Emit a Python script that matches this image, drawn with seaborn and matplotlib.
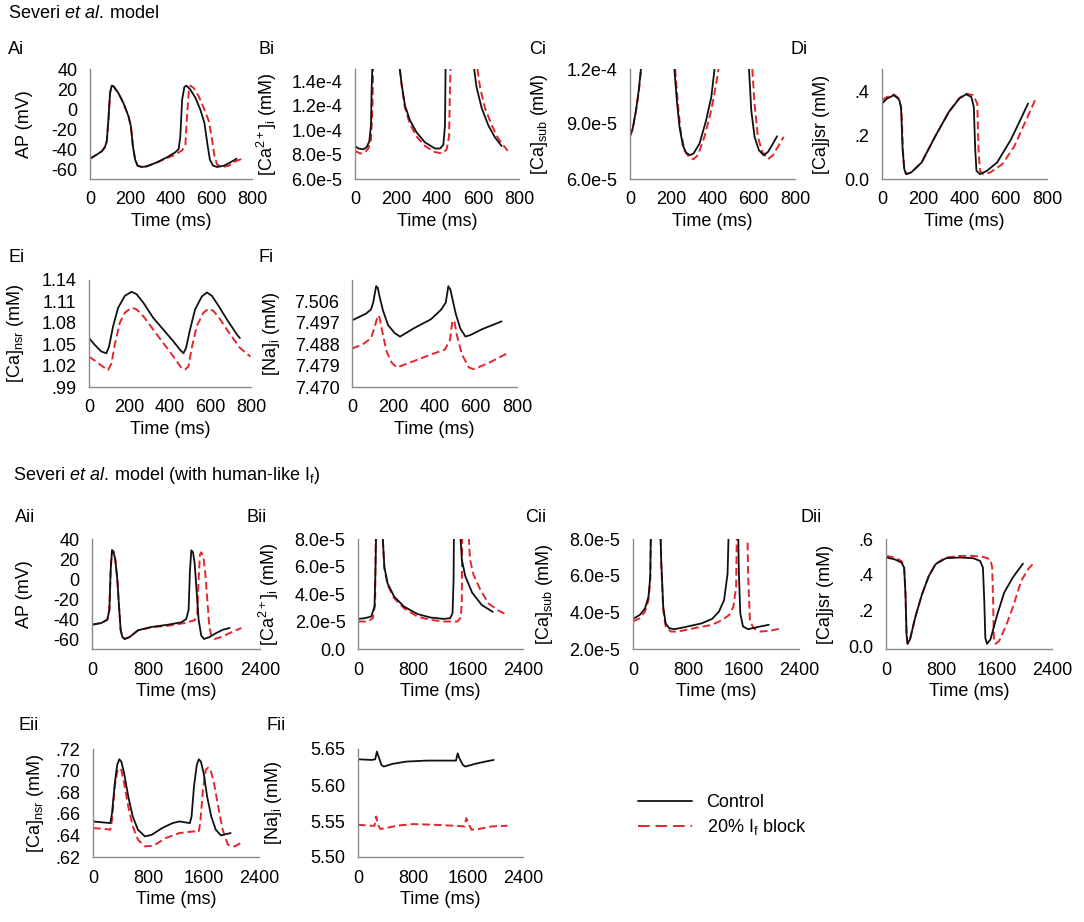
import matplotlib
matplotlib.use("Agg")
import matplotlib.pyplot as plt
import seaborn as sns
import pandas as pd
from matplotlib.lines import Line2D
from matplotlib.ticker import FuncFormatter

# ---- data: (time ms, value) ----
ai_ctrl = [(0, -49.7), (33, -45.7), (58, -42.3), (74, -38), (83, -32), (91, -10.7), (99, 16), (107, 23.3),
           (116, 22.7), (140, 16), (165, 6), (190, -7.3), (202, -17.3), (212, -37.3), (223, -50.7),
           (235, -56.7), (256, -58), (281, -57.3), (331, -53.3), (380, -48.3), (421, -43.3), (438, -40),
           (446, -27.3), (455, 9.3), (466, 22), (476, 23.3), (496, 19.3), (521, 11), (545, -0.7),
           (565, -14), (579, -34), (592, -50.7), (608, -56.7), (628, -58), (661, -56.7), (694, -53.3),
           (724, -49.7)]
ai_block = [(0, -49.7), (33, -45.7), (58, -42.3), (74, -38), (83, -32), (91, -10.7), (99, 16), (107, 23.3),
            (116, 22.7), (140, 16), (165, 6), (190, -7.3), (202, -17.3), (212, -37.3), (223, -50.7),
            (235, -56.7), (256, -58), (281, -57.3), (331, -53.5), (380, -49), (421, -45.7), (455, -41.3),
            (471, -35.7), (479, -7.3), (488, 17.7), (496, 23.3), (512, 21), (537, 12.7), (562, 1),
            (587, -12.3), (603, -30.7), (615, -47.3), (628, -55.7), (653, -58), (686, -56.7),
            (719, -52.3), (760, -49)]

bi_ctrl = [(0, 8.71e-5), (16, 8.5e-5), (41, 8.43e-5), (57, 8.6e-5), (70, 9.1e-5), (78, 1.04e-4),
           (81, 1.32e-4), (85, 1.55e-4), (95, 3e-4), (205, 3e-4), (215, 1.55e-4), (228, 1.37e-4),
           (244, 1.2e-4), (268, 1.08e-4), (301, 9.8e-5), (341, 9.0e-5), (390, 8.5e-5), (415, 8.49e-5),
           (431, 8.8e-5), (439, 1.04e-4), (442, 1.55e-4), (450, 3e-4), (570, 3e-4), (577, 1.55e-4),
           (593, 1.35e-4), (618, 1.18e-4), (650, 1.04e-4), (683, 9.4e-5), (715, 8.7e-5)]
bi_block = [(0, 8.31e-5), (24, 8.09e-5), (46, 8.14e-5), (65, 8.5e-5), (78, 9.2e-5), (85, 1.18e-4),
            (89, 1.55e-4), (99, 3e-4), (205, 3e-4), (215, 1.55e-4), (228, 1.36e-4), (244, 1.18e-4),
            (268, 1.05e-4), (301, 9.46e-5), (341, 8.7e-5), (390, 8.2e-5), (423, 8.1e-5), (447, 8.4e-5),
            (459, 9.5e-5), (463, 1.32e-4), (467, 1.55e-4), (475, 3e-4), (585, 3e-4), (593, 1.55e-4),
            (610, 1.35e-4), (634, 1.18e-4), (667, 1.04e-4), (699, 9.3e-5), (745, 8.3e-5)]

ci_ctrl = [(0, 8.39e-5), (13, 8.75e-5), (29, 9.74e-5), (42, 1.08e-4), (53, 1.2e-4), (58, 1.5e-4),
           (70, 4e-4), (205, 4e-4), (212, 1.5e-4), (215, 1.2e-4), (227, 1.03e-4), (240, 8.84e-5),
           (256, 7.84e-5), (272, 7.43e-5), (291, 7.3e-5), (308, 7.39e-5), (337, 7.93e-5), (369, 9.2e-5),
           (394, 1.046e-4), (410, 1.2e-4), (418, 1.5e-4), (430, 4e-4), (570, 4e-4), (575, 1.5e-4),
           (577, 1.2e-4), (588, 9.74e-5), (604, 8.3e-5), (625, 7.57e-5), (648, 7.3e-5), (669, 7.48e-5),
           (693, 7.93e-5), (713, 8.33e-5)]
ci_block = [(0, 8.3e-5), (13, 8.7e-5), (29, 9.7e-5), (43, 1.08e-4), (54, 1.2e-4), (59, 1.5e-4),
            (71, 4e-4), (207, 4e-4), (215, 1.5e-4), (219, 1.2e-4), (232, 1.01e-4), (245, 8.66e-5),
            (264, 7.57e-5), (288, 7.16e-5), (308, 7.08e-5), (329, 7.3e-5), (361, 8.3e-5), (394, 9.74e-5),
            (418, 1.12e-4), (429, 1.2e-4), (436, 1.5e-4), (450, 4e-4), (585, 4e-4), (590, 1.5e-4),
            (593, 1.2e-4), (604, 1.01e-4), (620, 8.3e-5), (641, 7.48e-5), (669, 7.08e-5), (693, 7.3e-5),
            (717, 7.75e-5), (745, 8.3e-5)]

di_ctrl = [(0, 0.343), (25, 0.366), (58, 0.381), (83, 0.361), (92, 0.328), (100, 0.134), (108, 0.045),
           (117, 0.022), (142, 0.03), (192, 0.075), (258, 0.194), (325, 0.306), (375, 0.366),
           (408, 0.385), (433, 0.373), (445, 0.328), (452, 0.134), (458, 0.037), (475, 0.022),
           (508, 0.037), (558, 0.075), (625, 0.179), (667, 0.261), (708, 0.343)]
di_block = [(0, 0.358), (25, 0.373), (58, 0.384), (83, 0.366), (95, 0.313), (101, 0.134), (108, 0.045),
            (117, 0.022), (142, 0.03), (192, 0.075), (258, 0.194), (325, 0.306), (375, 0.368),
            (408, 0.388), (442, 0.381), (462, 0.343), (468, 0.134), (475, 0.037), (492, 0.022),
            (525, 0.03), (583, 0.067), (642, 0.149), (692, 0.254), (742, 0.358)]

ei_ctrl = [(0, 1.0586), (28, 1.0492), (61, 1.0397), (86, 1.0373), (99, 1.0468), (119, 1.0752),
           (144, 1.1012), (177, 1.1178), (210, 1.1235), (235, 1.1201), (268, 1.1083), (317, 1.087),
           (367, 1.0705), (417, 1.0539), (450, 1.042), (466, 1.0373), (479, 1.0444), (499, 1.0705),
           (524, 1.0989), (557, 1.1168), (582, 1.1225), (607, 1.1178), (640, 1.1036), (681, 1.0847),
           (731, 1.0634), (745, 1.0586)]
ei_block = [(0, 1.0326), (36, 1.0255), (69, 1.0184), (94, 1.0137), (111, 1.0231), (127, 1.0492),
            (152, 1.0799), (177, 1.0941), (210, 1.1012), (235, 1.0988), (268, 1.0894), (317, 1.0705),
            (367, 1.0515), (417, 1.0326), (458, 1.016), (474, 1.0146), (491, 1.0184), (507, 1.0444),
            (532, 1.0752), (565, 1.0941), (590, 1.0998), (615, 1.0965), (648, 1.0847), (698, 1.0634),
            (747, 1.0444), (797, 1.0326)]

fi_ctrl = [(0, 7.498), (33, 7.4994), (67, 7.5008), (92, 7.5026), (103, 7.5056), (117, 7.5124),
           (125, 7.5117), (133, 7.5083), (150, 7.5022), (175, 7.496), (208, 7.4926), (233, 7.4912),
           (300, 7.4947), (383, 7.4985), (433, 7.5026), (455, 7.5056), (467, 7.5124), (477, 7.511),
           (487, 7.507), (503, 7.5008), (525, 7.4946), (550, 7.4912), (575, 7.4919), (633, 7.4944),
           (700, 7.4967), (725, 7.4976)]
fi_block = [(0, 7.4862), (50, 7.4878), (92, 7.4905), (108, 7.4946), (125, 7.5001), (133, 7.4994),
            (147, 7.4933), (167, 7.4851), (192, 7.4803), (217, 7.4782), (300, 7.4809), (383, 7.4837),
            (450, 7.4857), (475, 7.4898), (487, 7.498), (497, 7.4974), (508, 7.4919), (533, 7.4837),
            (567, 7.4782), (592, 7.4775), (667, 7.4803), (758, 7.4844)]

aii_ctrl = [(0, -45.7), (133, -44), (219, -40.7), (248, -30.7), (267, 9.3), (286, 28.7), (305, 27.7),
            (333, 19.3), (362, -0.7), (386, -27.3), (409, -50.7), (433, -58), (467, -60), (538, -58),
            (657, -51.3), (848, -48), (1086, -45.7), (1276, -43.3), (1347, -40), (1380, -30.7),
            (1400, 9.3), (1419, 28.7), (1443, 26.7), (1466, 16), (1490, -7.3), (1523, -40.7),
            (1561, -56.7), (1599, -60), (1680, -58), (1775, -54), (1871, -50.7), (1966, -49)]
aii_block = [(0, -45.7), (133, -44), (219, -40.7), (248, -30.7), (267, 9.3), (286, 28.7), (305, 27.7),
             (333, 19.3), (362, -0.7), (386, -27.3), (409, -50.7), (433, -58), (467, -60), (538, -58),
             (657, -51.3), (848, -48.3), (1086, -46.7), (1324, -44), (1466, -41.3), (1504, -35.7),
             (1523, -0.7), (1542, 24.3), (1561, 26.7), (1590, 22.7), (1618, 6), (1647, -20.7),
             (1676, -47.3), (1704, -56.7), (1752, -60), (1847, -58), (1990, -53.3), (2133, -49)]

bii_ctrl = [(0, 2.19e-5), (96, 2.24e-5), (192, 2.36e-5), (240, 3.08e-5), (254, 5.7e-5), (263, 8.2e-5),
            (270, 2e-4), (350, 2e-4), (359, 8.2e-5), (383, 5.98e-5), (431, 4.77e-5), (527, 3.8e-5),
            (671, 3.08e-5), (862, 2.55e-5), (1054, 2.29e-5), (1245, 2.19e-5), (1340, 2.24e-5),
            (1375, 2.6e-5), (1390, 5.0e-5), (1395, 8.2e-5), (1400, 2e-4), (1480, 2e-4), (1490, 8.2e-5),
            (1510, 6.5e-5), (1560, 5.3e-5), (1660, 4.1e-5), (1800, 3.2e-5), (1960, 2.7e-5)]
bii_block = [(0, 2.0e-5), (144, 2.0e-5), (216, 2.24e-5), (249, 3.3e-5), (258, 8.2e-5), (265, 2e-4),
             (350, 2e-4), (359, 8.2e-5), (383, 5.86e-5), (431, 4.65e-5), (527, 3.69e-5), (671, 2.96e-5),
             (862, 2.36e-5), (1054, 2.12e-5), (1245, 2.0e-5), (1450, 2.0e-5), (1495, 2.3e-5),
             (1510, 3.5e-5), (1515, 8.2e-5), (1520, 2e-4), (1600, 2e-4), (1610, 8.2e-5), (1630, 6.5e-5),
             (1680, 5.4e-5), (1780, 4.3e-5), (1900, 3.3e-5), (2040, 2.8e-5), (2160, 2.5e-5)]

cii_ctrl = [(0, 3.64e-5), (99, 3.86e-5), (174, 4.22e-5), (224, 4.85e-5), (249, 5.93e-5), (258, 8.2e-5),
            (265, 2e-4), (390, 2e-4), (398, 8.2e-5), (408, 6.83e-5), (437, 4.3e-5), (472, 3.4e-5),
            (522, 3.14e-5), (596, 3.08e-5), (746, 3.19e-5), (994, 3.4e-5), (1143, 3.64e-5),
            (1243, 4.04e-5), (1317, 4.67e-5), (1367, 6.1e-5), (1382, 8.2e-5), (1390, 2e-4), (1515, 2e-4),
            (1521, 8.2e-5), (1531, 6.1e-5), (1551, 3.95e-5), (1590, 3.23e-5), (1665, 3.08e-5),
            (1789, 3.19e-5), (1963, 3.32e-5)]
cii_block = [(0, 3.5e-5), (99, 3.68e-5), (174, 4.04e-5), (224, 4.67e-5), (249, 5.75e-5), (258, 8.2e-5),
             (265, 2e-4), (390, 2e-4), (398, 8.2e-5), (408, 6.65e-5), (437, 4.13e-5), (472, 3.23e-5),
             (547, 2.95e-5), (646, 2.95e-5), (895, 3.14e-5), (1143, 3.32e-5), (1292, 3.59e-5),
             (1392, 3.86e-5), (1451, 4.3e-5), (1491, 5.39e-5), (1501, 8.2e-5), (1508, 2e-4),
             (1648, 2e-4), (1655, 8.2e-5), (1665, 5.93e-5), (1690, 3.59e-5), (1740, 3.14e-5),
             (1839, 2.95e-5), (1988, 3.0e-5), (2162, 3.14e-5)]

dii_ctrl = [(0, 0.497), (124, 0.487), (223, 0.469), (262, 0.441), (282, 0.292), (297, 0.069), (312, 0.017),
            (347, 0.041), (421, 0.162), (520, 0.292), (619, 0.394), (718, 0.46), (866, 0.493),
            (1064, 0.497), (1262, 0.493), (1361, 0.478), (1401, 0.441), (1421, 0.255), (1436, 0.05),
            (1460, 0.017), (1510, 0.041), (1609, 0.18), (1708, 0.301), (1832, 0.385), (1980, 0.463)]
dii_block = [(0, 0.506), (124, 0.497), (223, 0.478), (262, 0.45), (282, 0.292), (297, 0.069), (312, 0.017),
             (347, 0.041), (421, 0.162), (520, 0.292), (619, 0.394), (718, 0.463), (866, 0.497),
             (1064, 0.506), (1262, 0.506), (1411, 0.5), (1510, 0.487), (1535, 0.441), (1549, 0.255),
             (1559, 0.05), (1584, 0.017), (1634, 0.032), (1733, 0.115), (1832, 0.218), (1955, 0.367),
             (2054, 0.432), (2143, 0.469)]

eii_ctrl = [(0, 0.6529), (250, 0.6514), (275, 0.6606), (315, 0.6883), (350, 0.7052), (380, 0.7105),
            (410, 0.7083), (450, 0.6975), (510, 0.676), (575, 0.6575), (650, 0.6452), (750, 0.6391),
            (850, 0.6406), (1000, 0.6468), (1150, 0.6514), (1250, 0.6529), (1400, 0.6514),
            (1425, 0.6575), (1460, 0.6852), (1500, 0.7052), (1530, 0.7105), (1560, 0.7083),
            (1600, 0.6975), (1650, 0.676), (1710, 0.6575), (1775, 0.6452), (1850, 0.64), (1990, 0.6422)]
eii_block = [(0, 0.6468), (200, 0.6458), (250, 0.6452), (275, 0.6545), (315, 0.6852), (350, 0.6991),
             (380, 0.7022), (410, 0.7006), (450, 0.6883), (510, 0.6668), (575, 0.6483), (650, 0.636),
             (750, 0.6298), (875, 0.6305), (1050, 0.6375), (1250, 0.6422), (1450, 0.6437),
             (1525, 0.6428), (1550, 0.6514), (1590, 0.6822), (1630, 0.7006), (1665, 0.7028),
             (1700, 0.7006), (1750, 0.6883), (1810, 0.6668), (1875, 0.6452), (1950, 0.6314),
             (2050, 0.6298), (2175, 0.6345)]

fii_ctrl = [(0, 5.6357), (200, 5.6348), (250, 5.6357), (275, 5.6464), (300, 5.6394), (340, 5.6279),
            (375, 5.6256), (500, 5.6293), (700, 5.6325), (1000, 5.6339), (1300, 5.6339), (1425, 5.6339),
            (1450, 5.644), (1475, 5.6371), (1525, 5.6279), (1560, 5.6256), (1700, 5.6293),
            (1850, 5.6325), (1975, 5.6348)]
fii_block = [(0, 5.5448), (200, 5.5434), (240, 5.5434), (265, 5.5563), (290, 5.5448), (325, 5.5388),
             (400, 5.5402), (600, 5.5439), (800, 5.5457), (1100, 5.5448), (1400, 5.5434), (1550, 5.5425),
             (1575, 5.554), (1610, 5.5462), (1650, 5.5379), (1750, 5.5388), (1950, 5.5425),
             (2175, 5.5434)]

short_t = [0, 200, 400, 600, 800]
long_t = [0, 800, 1600, 2400]

W, H = 1084, 922
BLACK = "#111111"
RED = "#e3262b"
GREY = "#8a8a8a"

sns.set_style("white")
plt.rcParams["font.family"] = ["Liberation Sans", "DejaVu Sans"]
plt.rcParams["mathtext.fontset"] = "custom"
plt.rcParams["mathtext.rm"] = "Liberation Sans"
plt.rcParams["mathtext.it"] = "Liberation Sans:italic"
plt.rcParams["mathtext.bf"] = "Liberation Sans:bold"
plt.rcParams["text.color"] = "black"
plt.rcParams["axes.labelcolor"] = "black"
plt.rcParams["xtick.color"] = "black"
plt.rcParams["ytick.color"] = "black"
FS = 13


def sci_fmt(v, pos):
    if v == 0:
        return "0.0"
    m, e = f"{v:.1e}".split("e")
    return f"{m}e{int(e)}"


def lead_fmt(dec):
    def f(v, pos):
        if abs(v) < 1e-12:
            return "0.0"
        s = f"{v:.{dec}f}"
        return s[1:] if s.startswith("0.") else s
    return f


def int_fmt(v, pos):
    return f"{v:.0f}"


def draw(ax, ctrl, block):
    df_c = pd.DataFrame(ctrl, columns=["time", "value"])
    df_b = pd.DataFrame(block, columns=["time", "value"])
    sns.lineplot(data=df_b, x="time", y="value", ax=ax, color=RED, lw=1.4,
                 linestyle=(0, (4, 2)), estimator=None, sort=False)
    sns.lineplot(data=df_c, x="time", y="value", ax=ax, color=BLACK, lw=1.3,
                 estimator=None, sort=False)


# (rect px: left, top, width, height), data, xticks, ylim, yticks, formatter, ylabel, label offset px
panels = [
    ((90, 69, 162, 110), ai_ctrl, ai_block, short_t, (-70, 40), [-60, -40, -20, 0, 20, 40], int_fmt,
     "AP (mV)", -65, "Ai", (8, 49)),
    ((355, 69, 164, 110), bi_ctrl, bi_block, short_t, (6e-5, 1.5e-4), [6e-5, 8e-5, 1e-4, 1.2e-4, 1.4e-4],
     sci_fmt, r"[Ca$^{2+}$]$_\mathrm{i}$ (mM)", -88, "Bi", (258, 49)),
    ((630, 69, 165, 110), ci_ctrl, ci_block, short_t, (6e-5, 1.2e-4), [6e-5, 9e-5, 1.2e-4], sci_fmt,
     r"[Ca]$_\mathrm{sub}$ (mM)", -90, "Ci", (529, 49)),
    ((882, 69, 165, 110), di_ctrl, di_block, short_t, (0, 0.5), [0, 0.2, 0.4], lead_fmt(1),
     "[Ca]jsr (mM)", -60, "Di", (790, 49)),
    ((89, 280, 162, 107), ei_ctrl, ei_block, short_t, (0.99, 1.14), [0.99, 1.02, 1.05, 1.08, 1.11, 1.14],
     lead_fmt(2), r"[Ca]$_\mathrm{nsr}$ (mM)", -73, "Ei", (8, 257)),
    ((352, 280, 165, 107), fi_ctrl, fi_block, short_t, (7.470, 7.515), [7.470, 7.479, 7.488, 7.497, 7.506],
     lead_fmt(3), r"[Na]$_\mathrm{i}$ (mM)", -80, "Fi", (259, 257)),
    ((92, 539, 168, 110), aii_ctrl, aii_block, long_t, (-70, 40), [-60, -40, -20, 0, 20, 40], int_fmt,
     "AP (mV)", -67, "Aii", (15, 517)),
    ((358, 539, 165, 110), bii_ctrl, bii_block, long_t, (0, 8e-5), [0, 2e-5, 4e-5, 6e-5, 8e-5], sci_fmt,
     r"[Ca$^{2+}$]$_\mathrm{i}$ (mM)", -89, "Bii", (246, 517)),
    ((633, 539, 166, 110), cii_ctrl, cii_block, long_t, (2e-5, 8e-5), [2e-5, 4e-5, 6e-5, 8e-5], sci_fmt,
     r"[Ca]$_\mathrm{sub}$ (mM)", -88, "Cii", (525, 517)),
    ((886, 539, 166, 110), dii_ctrl, dii_block, long_t, (-0.012, 0.6), [0, 0.2, 0.4, 0.6], lead_fmt(1),
     "[Ca]jsr (mM)", -60, "Dii", (801, 517)),
    ((93, 749, 166, 108), eii_ctrl, eii_block, long_t, (0.62, 0.72), [0.62, 0.64, 0.66, 0.68, 0.70, 0.72],
     lead_fmt(2), r"[Ca]$_\mathrm{nsr}$ (mM)", -58, "Eii", (18, 725)),
    ((358, 749, 165, 108), fii_ctrl, fii_block, long_t, (5.50, 5.65), [5.50, 5.55, 5.60, 5.65], lead_fmt(2),
     r"[Na]$_\mathrm{i}$ (mM)", -84, "Fii", (266, 725)),
]

fig = plt.figure(figsize=(W / 100, H / 100), dpi=100)

for (rect, ctrl, block, xt, ylim, yt, fmt, ylab, yoff, tag, tagpos) in panels:
    l, t, w, h = rect
    ax = fig.add_axes([l / W, 1 - (t + h) / H, w / W, h / H])
    draw(ax, ctrl, block)
    ax.set_xlim(xt[0], xt[-1])
    ax.set_ylim(*ylim)
    ax.set_xticks(xt)
    ax.set_yticks(yt)
    ax.yaxis.set_major_formatter(FuncFormatter(fmt))
    ax.xaxis.set_major_formatter(FuncFormatter(int_fmt))
    for side in ("top", "right"):
        ax.spines[side].set_visible(False)
    for side in ("left", "bottom"):
        ax.spines[side].set_color(GREY)
        ax.spines[side].set_linewidth(1.0)
    ax.tick_params(axis="x", direction="in", length=3, width=0.8, color=GREY, labelcolor="black",
                   pad=9, labelsize=FS)
    ax.tick_params(axis="y", direction="out", length=3, width=0.8, color=GREY, labelcolor="black",
                   pad=6, labelsize=FS)
    ax.set_xlabel("Time (ms)", fontsize=FS, labelpad=3, color="black")
    ax.set_ylabel(ylab, fontsize=FS, va="center", color="black")
    ax.yaxis.set_label_coords(yoff / w, 0.5)
    ax.grid(False)
    ax.set_facecolor("white")
    fig.text(tagpos[0] / W, 1 - tagpos[1] / H, tag, fontsize=FS, ha="left", va="center", color="black")

fig.text(8 / W, 1 - 14 / H, r"Severi $\mathit{et\ al.}\:$model", fontsize=FS, ha="left", va="center",
         color="black")
fig.text(13 / W, 1 - 475 / H, r"Severi $\mathit{et\ al.}\:$model (with human-like I$_\mathrm{f}$)",
         fontsize=FS, ha="left", va="center", color="black")

handles = [Line2D([], [], color=BLACK, lw=1.3),
           Line2D([], [], color=RED, lw=1.4, linestyle=(0, (6, 3)))]
fig.legend(handles, ["Control", r"20% I$_\mathrm{f}$ block"], loc="upper left",
           bbox_to_anchor=(638 / W, 1 - 794 / H), frameon=False, fontsize=FS,
           handlelength=3.0, handletextpad=0.8, labelspacing=0.35, borderpad=0, borderaxespad=0,
           labelcolor="black")

fig.savefig("out.png", dpi=100, facecolor="white")
